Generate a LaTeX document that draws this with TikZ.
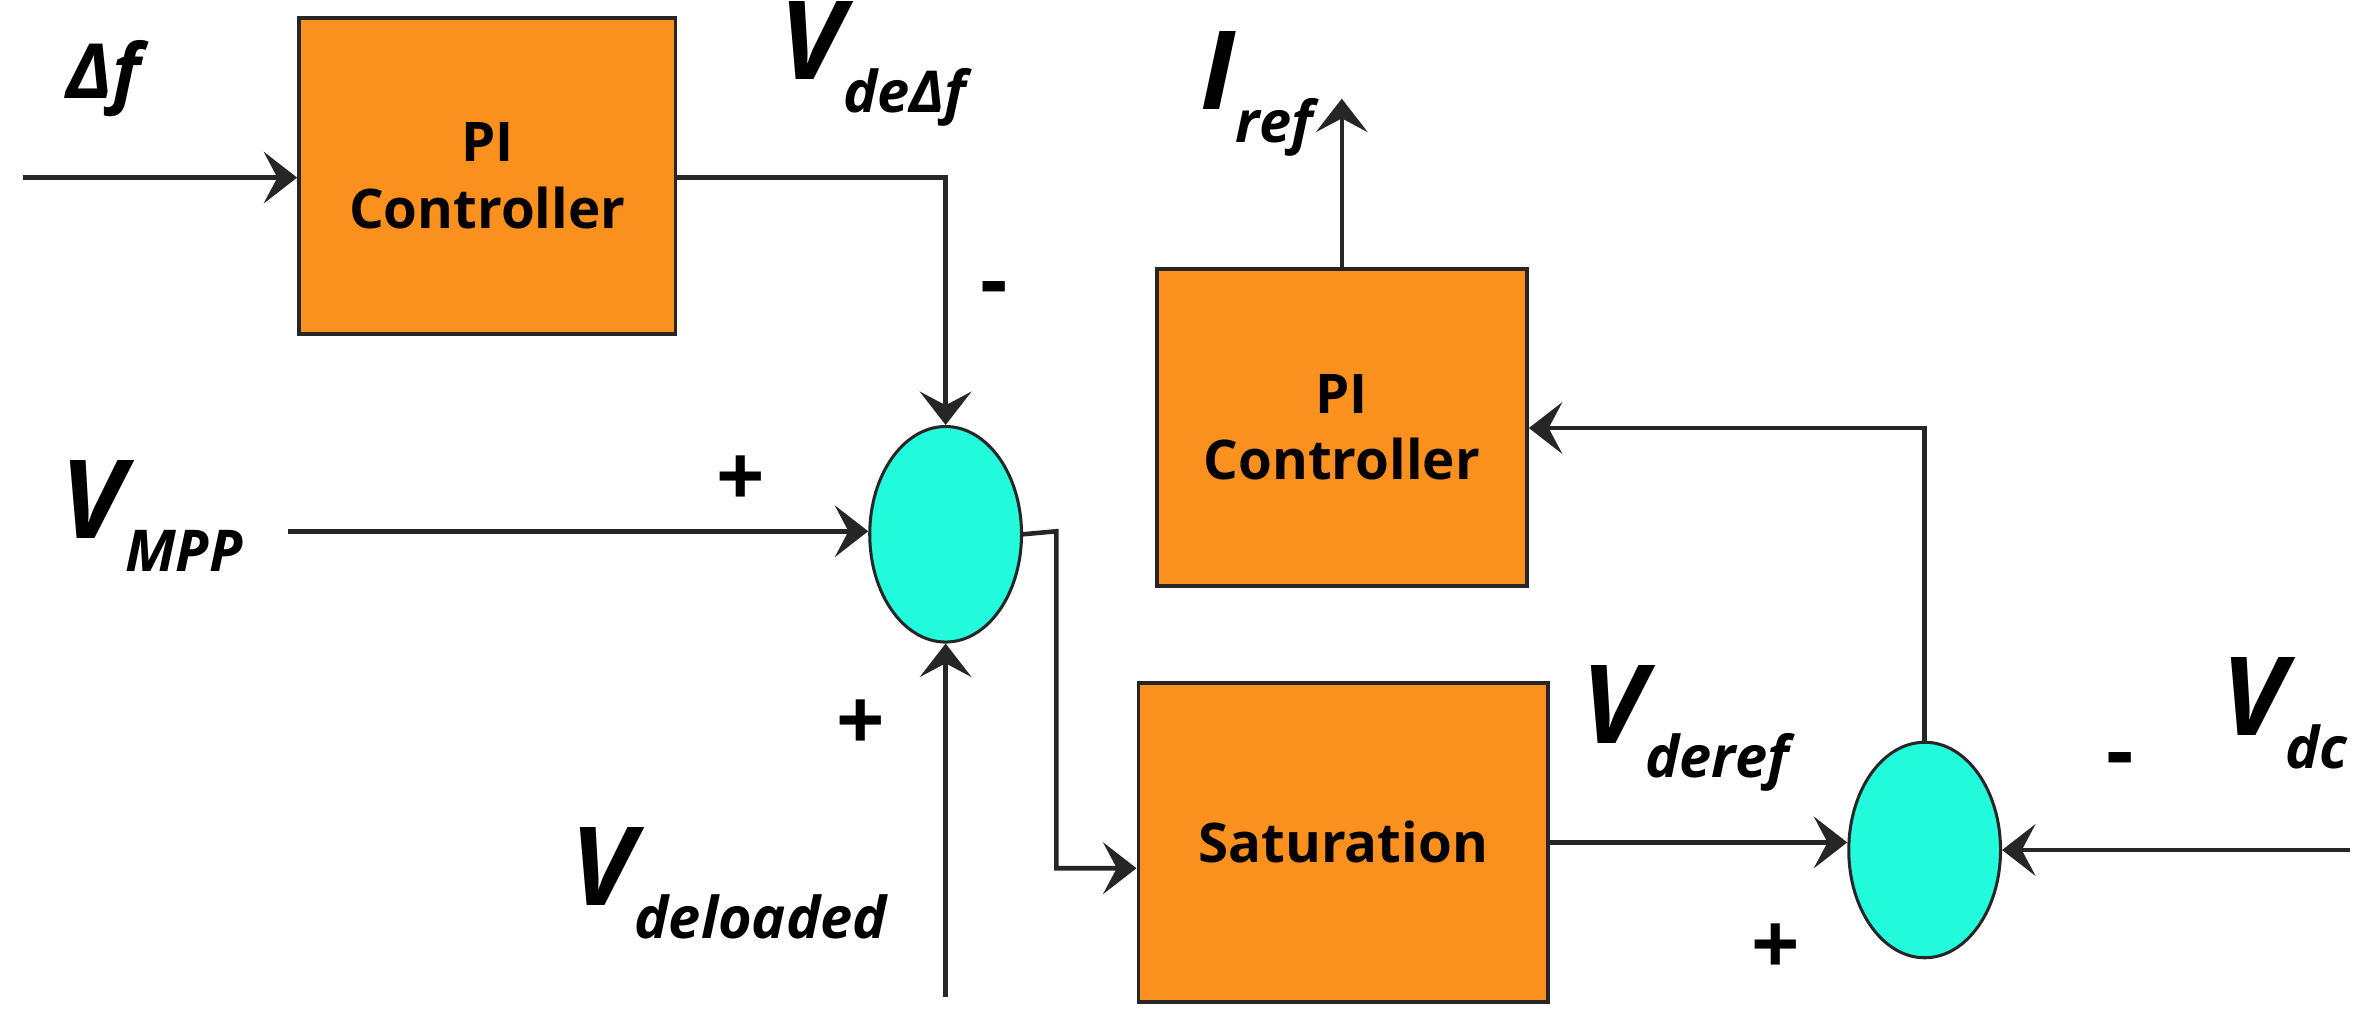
\documentclass[tikz,border=0pt]{standalone}
\usepackage{fontspec}
\setmainfont{Open Sans}
\usetikzlibrary{arrows.meta,shapes.geometric}
\definecolor{org}{HTML}{FA901E}
\definecolor{cy}{HTML}{22FCDC}
\newcommand{\lbl}[2]{{\fontsize{72}{72}\selectfont\bfseries\itshape #1}\raisebox{-22pt}{\fontsize{38}{38}\selectfont\bfseries\itshape #2}}
\begin{document}
\begin{tikzpicture}[x=1pt,y=-1pt,
  blk/.style={draw=black!85,line width=2.5pt,fill=org,inner sep=0pt,font=\fontsize{36}{44}\selectfont\bfseries,align=center},
  sum/.style={draw=black!85,line width=2pt,fill=cy,ellipse,minimum width=100pt,minimum height=142pt,inner sep=0pt},
  ln/.style={line width=3pt,draw=black!85},
  ar/.style={ln,-{Stealth[length=22pt,width=34pt,inset=9pt]}},
  sg/.style={font=\fontsize{56}{56}\selectfont\bfseries}]
\useasboundingbox (0,0) rectangle (1568,677);
\node[blk,minimum width=248pt,minimum height=208pt] (pi1) at (321,116) {PI\\Controller};
\node[blk,minimum width=244pt,minimum height=209pt] (pi2) at (884,281.5) {PI\\Controller};
\node[blk,minimum width=270pt,minimum height=210pt] (sat) at (885,555) {Saturation};
\node[sum] (s1) at (623,352) {};
\node[sum] (s2) at (1268,560) {};
\coordinate (df) at (15,117);
\coordinate (vm) at (190,350);
\coordinate (vdl) at (623,657);
\coordinate (vdc) at (1548,560);
\coordinate (iref) at (884,65);
\draw[ar] (df) -- (pi1.west|-df);
\draw[ar] (pi1.east|-df) -- (623,117) -- (s1.north);
\draw[ar] (vm) -- (s1.west|-vm);
\draw[ar] (vdl) -- (s1.south);
\draw[ar] (s1.east) -- (696,350) -- (696,572) -- (sat.west|-0,572);
\draw[ar] (sat.east|-0,555) -- (s2.west|-0,555);
\draw[ar] (vdc) -- (s2.east);
\draw[ar] (s2.north) -- (1268,282) -- (pi2.east|-0,282);
\draw[ar] (pi2.north) -- (iref);
\node (l1) at (68,52) {\fontsize{50}{50}\selectfont\bfseries\itshape Δf};
\node (l2) at (575,42) {\lbl{V}{deΔf}};
\node (l3) at (100,340) {\lbl{V}{MPP}};
\node (l4) at (480,582) {\lbl{V}{deloaded}};
\node (l5) at (1110,480) {\lbl{V}{deref}};
\node (l6) at (1505,470) {\lbl{V}{dc}};
\node (l7) at (828,62) {\lbl{I}{ref}};
\node[sg] (p1) at (488,317) {+};
\node[sg] (p2) at (567,478) {+};
\node[sg] (p3) at (1170,625) {+};
\node[sg] (m1) at (655,195) {-};
\node[sg] (m2) at (1397,505) {-};
\end{tikzpicture}
\end{document}
